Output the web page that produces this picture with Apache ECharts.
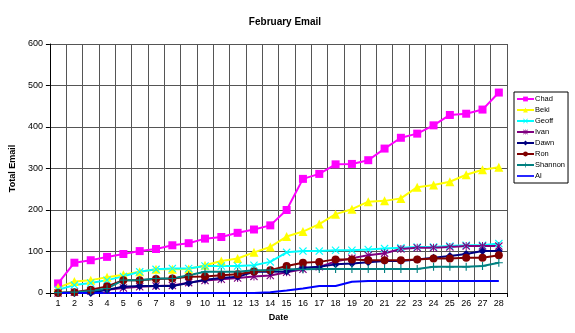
<!DOCTYPE html>
<html>
<head>
<meta charset="utf-8">
<script src="https://cdn.jsdelivr.net/npm/echarts@6/dist/echarts.min.js"></script>
<style>
  html, body { margin: 0; padding: 0; background: #fff; }
  #main { width: 575px; height: 333px; }
</style>
</head>
<body>
<div id="main"></div>
<script>
// days of February
var days = [];
for (var d = 1; d <= 28; d++) days.push(String(d));

var chad    = [23, 73, 79, 87, 94, 101, 106, 115, 120, 131, 135, 145, 153, 163, 200, 275, 287, 310, 311, 320, 348, 374, 384, 404, 429, 432, 442, 483];
var beki    = [13, 28, 31, 38, 44, 51, 57, 57, 58, 67, 77, 83, 98, 111, 136, 148, 166, 190, 202, 220, 222, 228, 255, 260, 268, 285, 297, 303];
var geoff   = [8, 19, 24, 31, 40, 51, 57, 59, 59, 65, 65, 65, 67, 75, 98, 101, 101, 103, 103, 105, 107, 109, 111, 111, 113, 115, 115, 119];
var ivan    = [0, 2, 5, 8, 12, 15, 17, 18, 25, 30, 33, 36, 40, 42, 50, 57, 63, 76, 84, 91, 96, 106, 109, 109, 111, 113, 113, 113];
var dawn    = [0, 0, 0, 8, 15, 17, 17, 17, 24, 32, 36, 39, 51, 51, 52, 61, 63, 69, 71, 74, 77, 77, 81, 85, 89, 94, 101, 101];
var ron     = [0, 2, 8, 16, 31, 31, 34, 35, 39, 40, 43, 45, 52, 55, 65, 73, 75, 81, 81, 79, 79, 79, 81, 83, 83, 85, 85, 91];
var shannon = [1, 2, 5, 11, 31, 31, 35, 35, 43, 51, 51, 51, 55, 55, 57, 57, 58, 58, 58, 58, 58, 58, 58, 63, 63, 63, 65, 73];
var al      = [0, 0, 0, 0, 0, 0, 0, 0, 0, 0, 0, 0, 0, 2, 6, 11, 17, 17, 27, 29, 29, 29, 29, 29, 29, 29, 29, 29];

var yTicks = { min: 0, max: 600, step: 100 };

var xMark = 'path://M0,1L1,0L5,4L9,0L10,1L6,5L10,9L9,10L5,6L1,10L0,9L4,5Z';
var star  = 'path://M0,1L1,0L5,4L9,0L10,1L6,5L10,9L9,10L5,6L1,10L0,9L4,5Z M4.4,0H5.6V10H4.4Z';
var plus  = 'path://M4.3,0H5.7V4.3H10V5.7H5.7V10H4.3V5.7H0V4.3H4.3Z';

function mkSeries(name, data, color, symbol, size) {
  return {
    name: name,
    type: 'line',
    data: data,
    color: color,
    symbol: symbol,
    symbolSize: size,
    showSymbol: symbol !== 'none',
    lineStyle: { width: 2, color: color },
    itemStyle: { color: color },
    animation: false
  };
}

var series = [
  mkSeries('Chad', chad, '#FF00FF', 'rect', 8),
  mkSeries('Beki', beki, '#FFFF00', 'triangle', 9),
  mkSeries('Geoff', geoff, '#00FFFF', xMark, 8),
  mkSeries('Ivan', ivan, '#800080', star, 8),
  mkSeries('Dawn', dawn, '#000080', 'diamond', 8),
  mkSeries('Ron', ron, '#800000', 'circle', 8),
  mkSeries('Shannon', shannon, '#008080', plus, 8),
  mkSeries('Al', al, '#0000FF', 'none', 0)
];

var legendNames = series.map(function (s) {
  if (s.name === 'Al') return { name: 'Al', icon: 'path://M0,0H20V2H0Z', itemStyle: { color: '#0000FF' } };
  return s.name;
});

var chart = echarts.init(document.getElementById('main'));
chart.setOption({
  backgroundColor: '#fff',
  animation: false,
  textStyle: { fontFamily: 'Liberation Sans, Arial, sans-serif' },
  title: {
    text: 'February Email',
    left: 280,
    textAlign: 'center',
    top: 12,
    textStyle: { fontSize: 10, fontWeight: 'bold', color: '#000', fontFamily: 'Liberation Sans' }
  },
  legend: {
    orient: 'vertical',
    left: 514,
    top: 92,
    padding: [3, 3, 3, 2],
    itemGap: 3,
    itemWidth: 17,
    itemHeight: 6,
    borderColor: '#000',
    borderWidth: 1,
    backgroundColor: '#fff',
    textStyle: { fontSize: 7.5, color: '#000', padding: [0, 0, 0, -4] },
    data: legendNames
  },
  grid: { left: 41, right: 68, top: 44, bottom: 40 },
  xAxis: {
    type: 'category',
    data: days,
    boundaryGap: true,
    name: 'Date',
    nameLocation: 'middle',
    nameGap: 20,
    nameTextStyle: { fontSize: 9, fontWeight: 'bold', color: '#000' },
    axisLine: { lineStyle: { color: '#000', width: 1 } },
    axisTick: { show: true, length: 4, lineStyle: { color: '#000' } },
    axisLabel: { fontSize: 9, color: '#000', margin: 6, interval: 0 },
    splitLine: { show: true, interval: 0, lineStyle: { color: '#555', width: 1 } }
  },
  yAxis: {
    type: 'value',
    min: yTicks.min,
    max: yTicks.max,
    interval: yTicks.step,
    name: 'Total Email',
    nameLocation: 'middle',
    nameGap: 26,
    nameTextStyle: { fontSize: 9, fontWeight: 'bold', color: '#000' },
    axisLine: { show: true, lineStyle: { color: '#000' } },
    axisTick: { show: true, length: 4, lineStyle: { color: '#000' } },
    axisLabel: { fontSize: 9, color: '#000', margin: 7 },
    splitLine: { show: true, lineStyle: { color: '#555', width: 1 } }
  },
  series: series
});
</script>
</body>
</html>
